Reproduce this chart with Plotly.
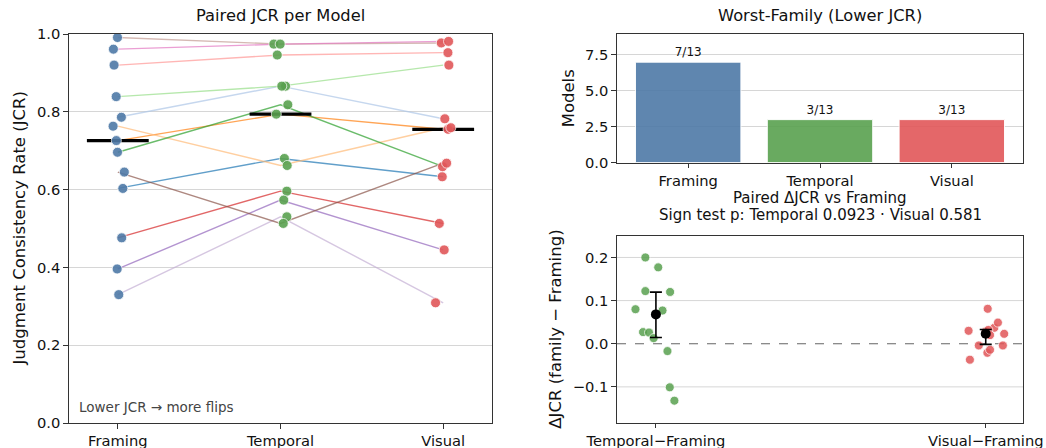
import numpy as np
import plotly.graph_objects as go

# ---------------- data ----------------
families = ["Framing", "Temporal", "Visual"]
jcr_framing = [0.603, 0.786, 0.726, 0.763, 0.696, 0.839, 0.476, 0.920, 0.396, 0.330, 0.645, 0.991, 0.961]
jcr_temporal = [0.680, 0.866, 0.794, 0.662, 0.818, 0.866, 0.596, 0.946, 0.573, 0.530, 0.513, 0.974, 0.974]
jcr_visual = [0.633, 0.782, 0.755, 0.759, 0.659, 0.920, 0.513, 0.952, 0.445, 0.309, 0.668, 0.977, 0.981]
worst_counts = [7, 3, 3]
n_models = 13
delta_labels = ["Temporal\u2212Framing", "Visual\u2212Framing"]
delta_ci_low = [0.0146, -0.0015]
delta_ci_high = [0.1197, 0.033]
sign_p = ["0.0923", "0.581"]
delta_ticks = [-0.1, 0.0, 0.1, 0.2]

# horizontal jitter (category units)
jit_framing = [0.031, 0.022, -0.009, -0.029, -0.002, -0.010, 0.024, -0.023, -0.004, 0.006, 0.040, -0.002, -0.027]
jit_temporal = [0.024, 0.031, -0.026, 0.041, 0.045, 0.008, 0.039, -0.020, 0.020, 0.039, 0.017, -0.041, -0.002]
jit_visual = [-0.006, 0.010, 0.030, 0.047, -0.004, 0.035, -0.024, 0.029, 0.006, -0.047, 0.021, -0.012, 0.033]
jit_dT = [0.020, -0.062, 0.000, 0.042, -0.032, -0.039, 0.043, -0.021, 0.007, -0.032, 0.056, 0.035, -0.007]
jit_dV = [-0.052, -0.021, 0.000, 0.052, -0.048, 0.006, 0.026, 0.008, 0.037, 0.005, 0.056, 0.013, 0.013]

# ---------------- style ----------------
W, H = 1046, 448
FONT = "DejaVu Sans"
fam_colors = ["#4E79A7", "#59A14F", "#E15759"]
tab20 = ["#1f77b4", "#aec7e8", "#ff7f0e", "#ffbb78", "#2ca02c", "#98df8a", "#d62728",
         "#ff9896", "#9467bd", "#c5b0d5", "#8c564b", "#c49c94", "#e377c2", "#f7b6d2"]
SPINE = "#333333"
GRID = "#d6d6d6"
TICKF = 14.7


def px_x(p):
    return p / W


def px_y(p):
    return 1 - p / H


fig = go.Figure()

# ---------- left panel: paired lines ----------
vals = [jcr_framing, jcr_temporal, jcr_visual]
for i in range(n_models):
    fig.add_trace(go.Scatter(
        x=[0, 1, 2], y=[jcr_framing[i], jcr_temporal[i], jcr_visual[i]],
        mode="lines", line=dict(color=tab20[i], width=1.4), opacity=0.7,
        xaxis="x", yaxis="y", showlegend=False, hoverinfo="skip"))

# medians
mx, my = [], []
for k, v in enumerate(vals):
    med = float(np.median(v))
    mx += [k - 0.19, k + 0.19, None]
    my += [med, med, None]
fig.add_trace(go.Scatter(x=mx, y=my, mode="lines", line=dict(color="black", width=3.2),
                         xaxis="x", yaxis="y", showlegend=False, hoverinfo="skip"))

jits = [jit_framing, jit_temporal, jit_visual]
for k, v in enumerate(vals):
    fig.add_trace(go.Scatter(
        x=[k + j for j in jits[k]], y=v, mode="markers",
        marker=dict(color=fam_colors[k], size=10, opacity=0.9, line=dict(color="white", width=0.8)),
        xaxis="x", yaxis="y", showlegend=False))

# ---------- top-right: worst-family bars ----------
fig.add_trace(go.Bar(
    x=[0, 1, 2], y=worst_counts, width=0.8,
    marker=dict(color=fam_colors, opacity=0.9, line=dict(color="white", width=1)),
    text=[f"{c}/{n_models}" for c in worst_counts], textposition="outside",
    textfont=dict(size=12, color="#111", family=FONT), cliponaxis=False,
    xaxis="x2", yaxis="y2", showlegend=False))

# ---------- bottom-right: deltas ----------
dT = np.array(jcr_temporal) - np.array(jcr_framing)
dV = np.array(jcr_visual) - np.array(jcr_framing)
deltas = [dT, dV]
djit = [jit_dT, jit_dV]
for k, d in enumerate(deltas):
    fig.add_trace(go.Scatter(
        x=[k + j for j in djit[k]], y=d, mode="markers",
        marker=dict(color=fam_colors[k + 1], size=9, opacity=0.85, line=dict(color="white", width=0.8)),
        xaxis="x3", yaxis="y3", showlegend=False))
meds = [float(np.median(d)) for d in deltas]
fig.add_trace(go.Scatter(
    x=[0, 1], y=meds, mode="markers",
    marker=dict(color="black", size=10),
    error_y=dict(type="data", symmetric=False,
                 array=[delta_ci_high[k] - meds[k] for k in range(2)],
                 arrayminus=[meds[k] - delta_ci_low[k] for k in range(2)],
                 color="black", thickness=1.6, width=6),
    xaxis="x3", yaxis="y3", showlegend=False))

# ---------- axes ----------
L = [69, 492, 34, 423]
TR = [617, 1023, 34, 162.7]
BR = [617, 1023, 235.7, 422.7]

common = dict(showline=True, mirror=True, linecolor=SPINE, linewidth=1.4,
              ticks="outside", ticklen=4.5, tickwidth=1.2, tickcolor=SPINE,
              tickfont=dict(size=TICKF, color="#111", family=FONT), zeroline=False,
              automargin=False)

fig.update_layout(
    width=W, height=H, margin=dict(l=0, r=0, t=0, b=0, autoexpand=False),
    paper_bgcolor="white", plot_bgcolor="white",
    font=dict(family=FONT, color="#111"),
    xaxis=dict(domain=[px_x(L[0]), px_x(L[1])], range=[-0.3, 2.3], tickvals=[0, 1, 2],
               ticktext=families, showgrid=False, anchor="y", **common),
    yaxis=dict(domain=[px_y(L[3]), px_y(L[2])], range=[0, 1], tickvals=[0, 0.2, 0.4, 0.6, 0.8, 1.0],
               tickformat=".1f", showgrid=True, gridcolor=GRID, gridwidth=1, anchor="x", **common),
    xaxis2=dict(domain=[px_x(TR[0]), px_x(TR[1])], range=[-0.54, 2.54], tickvals=[0, 1, 2],
                ticktext=families, showgrid=False, anchor="y2", **common),
    yaxis2=dict(domain=[px_y(TR[3]), px_y(TR[2])], range=[0, 8.96], tickvals=[0, 2.5, 5.0, 7.5],
                tickformat=".1f", showgrid=True, gridcolor=GRID, gridwidth=1, anchor="x2", **common),
    xaxis3=dict(domain=[px_x(BR[0]), px_x(BR[1])], range=[-0.118, 1.113], tickvals=[0, 1],
                ticktext=delta_labels, showgrid=False, anchor="y3", **common),
    yaxis3=dict(domain=[px_y(BR[3]), px_y(BR[2])], range=[-0.183, 0.2504], tickvals=delta_ticks,
                tickformat=".1f", showgrid=False, anchor="x3", **common),
    bargap=0.2,
)

# grid lines of the delta panel (except zero, which is the dashed reference line)
for t in delta_ticks:
    if t != 0:
        fig.add_shape(type="line", xref="x3 domain", yref="y3", x0=0, x1=1, y0=t, y1=t,
                      line=dict(color=GRID, width=1), layer="below")
fig.add_shape(type="line", xref="x3 domain", yref="y3", x0=0, x1=1, y0=0, y1=0,
              line=dict(color="#666666", width=1.2, dash="dash"), layer="below")

ann = []


def text(x, y, s, size, angle=0, xanchor="center", color="#111"):
    ann.append(dict(x=px_x(x), y=px_y(y), xref="paper", yref="paper", text=s, showarrow=False,
                    textangle=angle, xanchor=xanchor, yanchor="middle",
                    font=dict(size=size, color=color, family=FONT)))


text((L[0] + L[1]) / 2, 16, "Paired JCR per Model", 16.3)
text((TR[0] + TR[1]) / 2, 16, "Worst-Family (Lower JCR)", 16.3)
text((BR[0] + BR[1]) / 2, 198, "Paired \u0394JCR vs Framing", 15)
text((BR[0] + BR[1]) / 2, 215, f"Sign test p: Temporal {sign_p[0]} \u00b7 Visual {sign_p[1]}", 15)
text(19, (L[2] + L[3]) / 2, "Judgment Consistency Rate (JCR)", 16.5, angle=-90)
text(568, (TR[2] + TR[3]) / 2, "Models", 16.5, angle=-90)
text(555.5, (BR[2] + BR[3]) / 2, "\u0394JCR (family \u2212 Framing)", 16.5, angle=-90)
text(77, 407, "Lower JCR \u2192 more flips", 13.5, xanchor="left", color="#444")
fig.update_layout(annotations=ann)

fig.write_html("out.html", config={"displayModeBar": False},
               post_script="document.body.style.margin='0';document.body.style.padding='0';"
                           "document.body.style.overflow='hidden';")
